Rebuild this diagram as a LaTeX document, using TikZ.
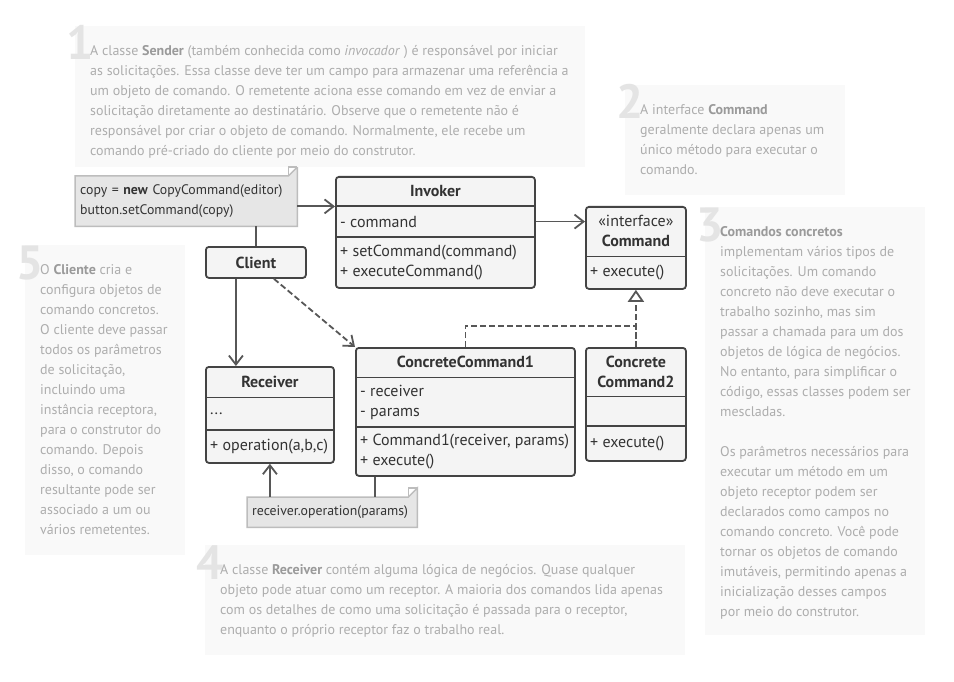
\documentclass[tikz,border=0pt]{standalone}
\usepackage{fontspec}
\setmainfont{PT Sans}
\usetikzlibrary{arrows.meta, positioning, calc, backgrounds}

\definecolor{annbg}{HTML}{F9F9F9}
\definecolor{anngray}{HTML}{ADADAD}
\definecolor{annboldc}{HTML}{9A9A9A}
\definecolor{digit}{HTML}{E4E4E4}
\definecolor{classfill}{HTML}{F4F4F4}
\definecolor{classline}{HTML}{444444}
\definecolor{ink}{HTML}{333333}
\definecolor{wire}{HTML}{575757}
\definecolor{notefill}{HTML}{E6E6E6}
\definecolor{noteline}{HTML}{BDBDBD}

\newcommand{\keyword}[1]{\textcolor{annboldc}{\textbf{#1}}}

\begin{document}
\begin{tikzpicture}[x=1pt, y=-1pt,
    every node/.style={font=\fontsize{16}{20}\selectfont, text=ink},
    annbox/.style={fill=annbg, anchor=north west, inner sep=0},
    anntext/.style={anchor=north west, inner sep=0, align=left, text=anngray, font=\fontsize{14}{20}\selectfont},
    num/.style={anchor=base west, inner sep=0, text=digit, font=\fontsize{48}{48}\selectfont\bfseries},
    classbox/.style={draw=classline, fill=classfill, line width=1.8, rounded corners=3, anchor=north west, inner sep=0},
    classtitle/.style={anchor=north, inner sep=0, minimum height=#1, align=center, font=\fontsize{16}{20}\selectfont\bfseries},
    members/.style={anchor=north west, inner xsep=5, inner ysep=0, minimum height=#1, align=left},
    divider/.style={classline, line width=1.8},
    note/.style={anchor=north west, inner xsep=5, inner ysep=0, align=left, font=\fontsize{13.8}{20}\selectfont},
    notebox/.style={draw=noteline, fill=notefill, line width=1.5},
    wireline/.style={wire, line width=1.8},
    assoc/.style={wireline, -{Straight Barb[length=9pt, width=14pt]}},
    depend/.style={assoc, dash pattern=on 6pt off 3pt},
    realize/.style={wireline, dash pattern=on 6pt off 3pt},
  ]
  \begin{scope}[on background layer]
    \fill[white] (0,0) rectangle (954,682);
  \end{scope}
  \useasboundingbox (0,0) rectangle (954,682);

  % Explanation boxes
  \node[annbox, minimum width=510, minimum height=141] (ann1) at (75,26) {};
  \node[num] (num1) at ([shift={(-9,34)}]ann1.north west) {1};
  \node[anntext] (ann1-text) at ([shift={(15,19)}]ann1.north west) {A classe \keyword{Sender} (também conhecida como \textit{invocador} ) é responsável por iniciar\\as solicitações. Essa classe deve ter um campo para armazenar uma referência a\\um objeto de comando. O remetente aciona esse comando em vez de enviar a\\solicitação diretamente ao destinatário. Observe que o remetente não é\\responsável por criar o objeto de comando. Normalmente, ele recebe um\\comando pré-criado do cliente por meio do construtor.};

  \node[annbox, minimum width=220, minimum height=110] (ann2) at (625,85) {};
  \node[num] (num2) at ([shift={(-9,34)}]ann2.north west) {2};
  \node[anntext] (ann2-text) at ([shift={(15,19)}]ann2.north west) {A interface \keyword{Command}\\geralmente declara apenas um\\único método para executar o\\comando.};

  \node[annbox, minimum width=220, minimum height=428] (ann3) at (705,207) {};
  \node[num] (num3) at ([shift={(-9,34)}]ann3.north west) {3};
  \node[anntext] (ann3-text) at ([shift={(15,19)}]ann3.north west) {\keyword{Comandos concretos}\\implementam vários tipos de\\solicitações. Um comando\\concreto não deve executar o\\trabalho sozinho, mas sim\\passar a chamada para um dos\\objetos de lógica de negócios.\\No entanto, para simplificar o\\código, essas classes podem ser\\mescladas.\\[20pt]Os parâmetros necessários para\\executar um método em um\\objeto receptor podem ser\\declarados como campos no\\comando concreto. Você pode\\tornar os objetos de comando\\imutáveis, permitindo apenas a\\inicialização desses campos\\por meio do construtor.};

  \node[annbox, minimum width=480, minimum height=110] (ann4) at (205,545) {};
  \node[num] (num4) at ([shift={(-9,34)}]ann4.north west) {4};
  \node[anntext] (ann4-text) at ([shift={(15,19)}]ann4.north west) {A classe \keyword{Receiver} contém alguma lógica de negócios. Quase qualquer\\objeto pode atuar como um receptor. A maioria dos comandos lida apenas\\com os detalhes de como uma solicitação é passada para o receptor,\\enquanto o próprio receptor faz o trabalho real.};

  \node[annbox, minimum width=160, minimum height=310] (ann5) at (25,245) {};
  \node[num] (num5) at ([shift={(-9,34)}]ann5.north west) {5};
  \node[anntext] (ann5-text) at ([shift={(15,19)}]ann5.north west) {O \keyword{Cliente} cria e\\configura objetos de\\comando concretos.\\O cliente deve passar\\todos os parâmetros\\de solicitação,\\incluindo uma\\instância receptora,\\para o construtor do\\comando. Depois\\disso, o comando\\resultante pode ser\\associado a um ou\\vários remetentes.};

  % Invoker
  \node[classbox, minimum width=199, minimum height=111] (invoker) at (335,176) {};
  \node[classtitle=30, below=0pt of invoker.north] (invoker-t) {Invoker};
  \node[members=30] (invoker-f) at (invoker-t.south -| invoker.west) {- command};
  \node[members=51] (invoker-m) at (invoker-f.south -| invoker.west) {+ setCommand(command)\\+ executeCommand()};
  \draw[divider] (invoker-f.north -| invoker.west) -- (invoker-f.north -| invoker.east);
  \draw[divider] (invoker-m.north -| invoker.west) -- (invoker-m.north -| invoker.east);

  % Command interface
  \node[classbox, minimum width=100, minimum height=82] (command) at (585,206) {};
  \node[classtitle=50, below=0pt of command.north] (command-t) {\textmd{«interface»}\\Command};
  \node[members=32] (command-m) at (command-t.south -| command.west) {+ execute()};
  \draw[divider] (command-m.north -| command.west) -- (command-m.north -| command.east);

  % Client
  \node[classbox, minimum width=100, minimum height=31, font=\fontsize{16}{20}\selectfont\bfseries] (client) at (205,246) {Client};

  % Receiver
  \node[classbox, minimum width=128, minimum height=96] (receiver) at (205,366) {};
  \node[classtitle=31, below=0pt of receiver.north] (receiver-t) {Receiver};
  \node[members=32] (receiver-f) at (receiver-t.south -| receiver.west) {...};
  \node[members=33] (receiver-m) at (receiver-f.south -| receiver.west) {+ operation(a,b,c)};
  \draw[divider] (receiver-f.north -| receiver.west) -- (receiver-f.north -| receiver.east);
  \draw[divider] (receiver-m.north -| receiver.west) -- (receiver-m.north -| receiver.east);

  % Concrete commands
  \node[classbox, minimum width=219, minimum height=128] (cc1) at (355,347) {};
  \node[classtitle=30, below=0pt of cc1.north] (cc1-t) {ConcreteCommand1};
  \node[members=49] (cc1-f) at (cc1-t.south -| cc1.west) {- receiver\\- params};
  \node[members=49] (cc1-m) at (cc1-f.south -| cc1.west) {+ Command1(receiver, params)\\+ execute()};
  \draw[divider] (cc1-f.north -| cc1.west) -- (cc1-f.north -| cc1.east);
  \draw[divider] (cc1-m.north -| cc1.west) -- (cc1-m.north -| cc1.east);

  \node[classbox, minimum width=100, minimum height=113] (cc2) at (585,347) {};
  \node[classtitle=49, below=0pt of cc2.north] (cc2-t) {Concrete\\Command2};
  \node[members=29] (cc2-f) at (cc2-t.south -| cc2.west) {};
  \node[members=35] (cc2-m) at (cc2-f.south -| cc2.west) {+ execute()};
  \draw[divider] (cc2-f.north -| cc2.west) -- (cc2-f.north -| cc2.east);
  \draw[divider] (cc2-m.north -| cc2.west) -- (cc2-m.north -| cc2.east);

  % Notes
  \node[note, text width=212, minimum height=50] (note) at (75,176) {copy = \textbf{new} CopyCommand(editor)\\button.setCommand(copy)};
  \node[note, text width=160, minimum height=30] (note2) at (247,497) {receiver.operation(params)};
  \begin{scope}[on background layer]
    \draw[notebox] (note.north west) -- ([xshift=-9]note.north east) -- ([yshift=9]note.north east) -- (note.south east) -- (note.south west) -- cycle;
    \draw[notebox] (note2.north west) -- ([xshift=-9]note2.north east) -- ([yshift=9]note2.north east) -- (note2.south east) -- (note2.south west) -- cycle;
  \end{scope}
  \draw[noteline, line width=1.5] ([xshift=-9]note.north east) |- ([yshift=9]note.north east);
  \draw[noteline, line width=1.5] ([xshift=-9]note2.north east) |- ([yshift=9]note2.north east);

  % Connectors
  \draw[wireline] (client.north |- note.south) -- (client.north);
  \draw[assoc] (note.east |- invoker-t.south) -- (invoker-t.south -| invoker.west);
  \draw[assoc] (invoker-f.east -| invoker.east) -- (invoker-f.east -| command.west);
  \draw[assoc] ($(client.south)+(-20,0)$) coordinate (c0) -- (c0 |- receiver.north);
  \draw[depend] ($(client.south)+(18,0)$) -- (cc1.north west);
  \draw[realize] (cc1.north) -- ++(0,-21) -| (cc2.north);
  \draw[realize, -{Triangle[length=12pt, width=16pt, fill=white]}] (cc2.north) -- (command.south);
  \draw[wireline] ($(cc1.south west)+(20,0)$) coordinate (c1) -- (c1 |- note2.north);
  \draw[assoc] (receiver.south |- note2.north) -- (receiver.south);
\end{tikzpicture}
\end{document}
